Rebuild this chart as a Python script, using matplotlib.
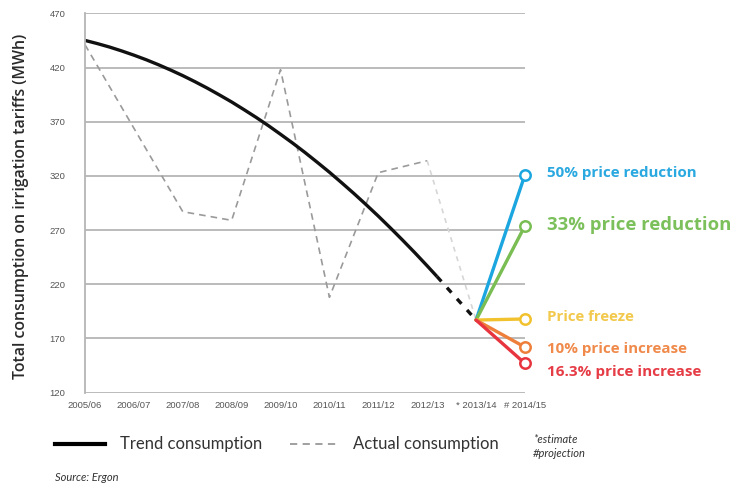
import numpy as np
import matplotlib.pyplot as plt
from matplotlib.lines import Line2D

plt.rcParams['font.family'] = ['Lato', 'DejaVu Sans']

# categories on the x axis
years = ['2005/06', '2006/07', '2007/08', '2008/09', '2009/10', '2010/11',
         '2011/12', '2012/13', '* 2013/14', '# 2014/15']

# actual consumption (MWh), index 0..7, then the 2013/14 estimate
actual_x = [0, 1, 2, 3, 4, 5, 6, 7]
actual_y = [441, 364, 287, 279, 418, 208, 323, 334]
estimate_y = 187

# trend consumption
trend_x = [0, 0.25, 0.5, 0.75, 1, 1.25, 1.5, 1.75, 2, 2.25, 2.5, 2.75, 3, 3.25,
           3.5, 3.75, 4, 4.25, 4.5, 4.75, 5, 5.25, 5.5, 5.75, 6, 6.25, 6.5,
           6.75, 7, 7.2]
trend_y = [445.0, 442.1, 438.9, 435.3, 431.4, 427.2, 422.6, 417.7, 412.5, 406.9,
           401.0, 394.7, 388.2, 381.2, 374.0, 366.4, 358.4, 350.2, 341.6, 332.6,
           323.4, 313.7, 303.8, 293.5, 282.9, 271.9, 260.6, 249.0, 237.0, 227.2]

# 2014/15 projections
scen_labels = ['50% price reduction', '33% price reduction', 'Price freeze',
               '10% price increase', '16.3% price increase']
scen_values = [321, 274, 188, 162, 147]
scen_colors = ['#1ba6e0', '#79bd53', '#f2c12e', '#ee7f3b', '#e7343f']
text_colors = ['#2aa8e0', '#7cc05b', '#f2c94c', '#f08a4b', '#e63c46']
text_sizes = [10.9, 13.3, 10.8, 10.9, 11]
text_y = [323, 275, 190, 160, 139]

fig = plt.figure(figsize=(7.51, 4.86), dpi=100)
ax = fig.add_axes([0.1132, 0.192, 0.5858, 0.7806])

ax.set_xlim(0, 9)
ax.set_ylim(120, 470)
ax.set_yticks(range(120, 471, 50))
ax.set_xticks(range(len(years)))
ax.set_xticklabels(years, family=['Liberation Sans', 'DejaVu Sans'])
ax.tick_params(length=0, labelsize=6.8, colors='#555555')
ax.tick_params(axis='y', pad=14)
ax.tick_params(axis='x', pad=6)
for lab in ax.get_yticklabels():
    lab.set_family(['Liberation Sans', 'DejaVu Sans'])
ax.grid(axis='y', color='#b5b5b5', lw=1.3)
ax.set_axisbelow(True)
for s in ['top', 'right', 'bottom']:
    ax.spines[s].set_visible(False)
ax.spines['left'].set_color('#b5b5b5')
ax.spines['left'].set_linewidth(1.3)

# actual consumption
ax.plot(actual_x, actual_y, color='#9a9a9a', lw=1.2, dashes=(4, 3))
ax.plot([actual_x[-1], 8], [actual_y[-1], estimate_y], color='#d6d6d6', lw=1.2, dashes=(3, 3))

# trend
ax.plot(trend_x, trend_y, color='#111111', lw=2.4, solid_capstyle='butt',
        solid_joinstyle='round')
ax.plot([trend_x[-1], 8], [trend_y[-1], estimate_y], color='#111111', lw=2.4, dashes=(2, 2.5))

# scenarios
for val, c in zip(scen_values, scen_colors):
    ax.plot([8, 9], [estimate_y, val], color=c, lw=2.4, solid_capstyle='round')
    ax.plot([9], [val], marker='o', ms=7.5, mfc='white', mec=c, mew=1.8,
            clip_on=False, zorder=5)
for lab, ty, c, fs in zip(scen_labels, text_y, text_colors, text_sizes):
    ax.text(9.45, ty, lab, color=c, fontsize=fs, fontweight='bold',
            family=['Open Sans', 'DejaVu Sans'],
            va='center', ha='left', clip_on=False)

ax.set_ylabel('Total consumption on irrigation tariffs (MWh)', fontsize=11.4,
              fontweight='semibold', family=['Open Sans', 'DejaVu Sans'],
              color='#2a2a2a')
ax.yaxis.set_label_coords(-0.128, 0.49)

# legend at the bottom
fig.add_artist(Line2D([55 / 751, 105 / 751], [1 - 444 / 486] * 2, color='black', lw=3))
fig.text(120 / 751, 1 - 444 / 486, 'Trend consumption', fontsize=12, color='#333333', va='center')
fig.add_artist(Line2D([290 / 751, 340 / 751], [1 - 444 / 486] * 2, color='#999999', lw=1.3,
                      dashes=(4, 3)))
fig.text(353 / 751, 1 - 444 / 486, 'Actual consumption', fontsize=12, color='#333333', va='center')
fig.text(533 / 751, 1 - 439 / 486, '*estimate', fontsize=8, style='italic', color='#333333', va='center')
fig.text(533 / 751, 1 - 453 / 486, '#projection', fontsize=8, style='italic', color='#333333', va='center')
fig.text(55 / 751, 1 - 477 / 486, 'Source: Ergon', fontsize=8, style='italic', color='#333333', va='center')

fig.savefig('out.png', dpi=100)
